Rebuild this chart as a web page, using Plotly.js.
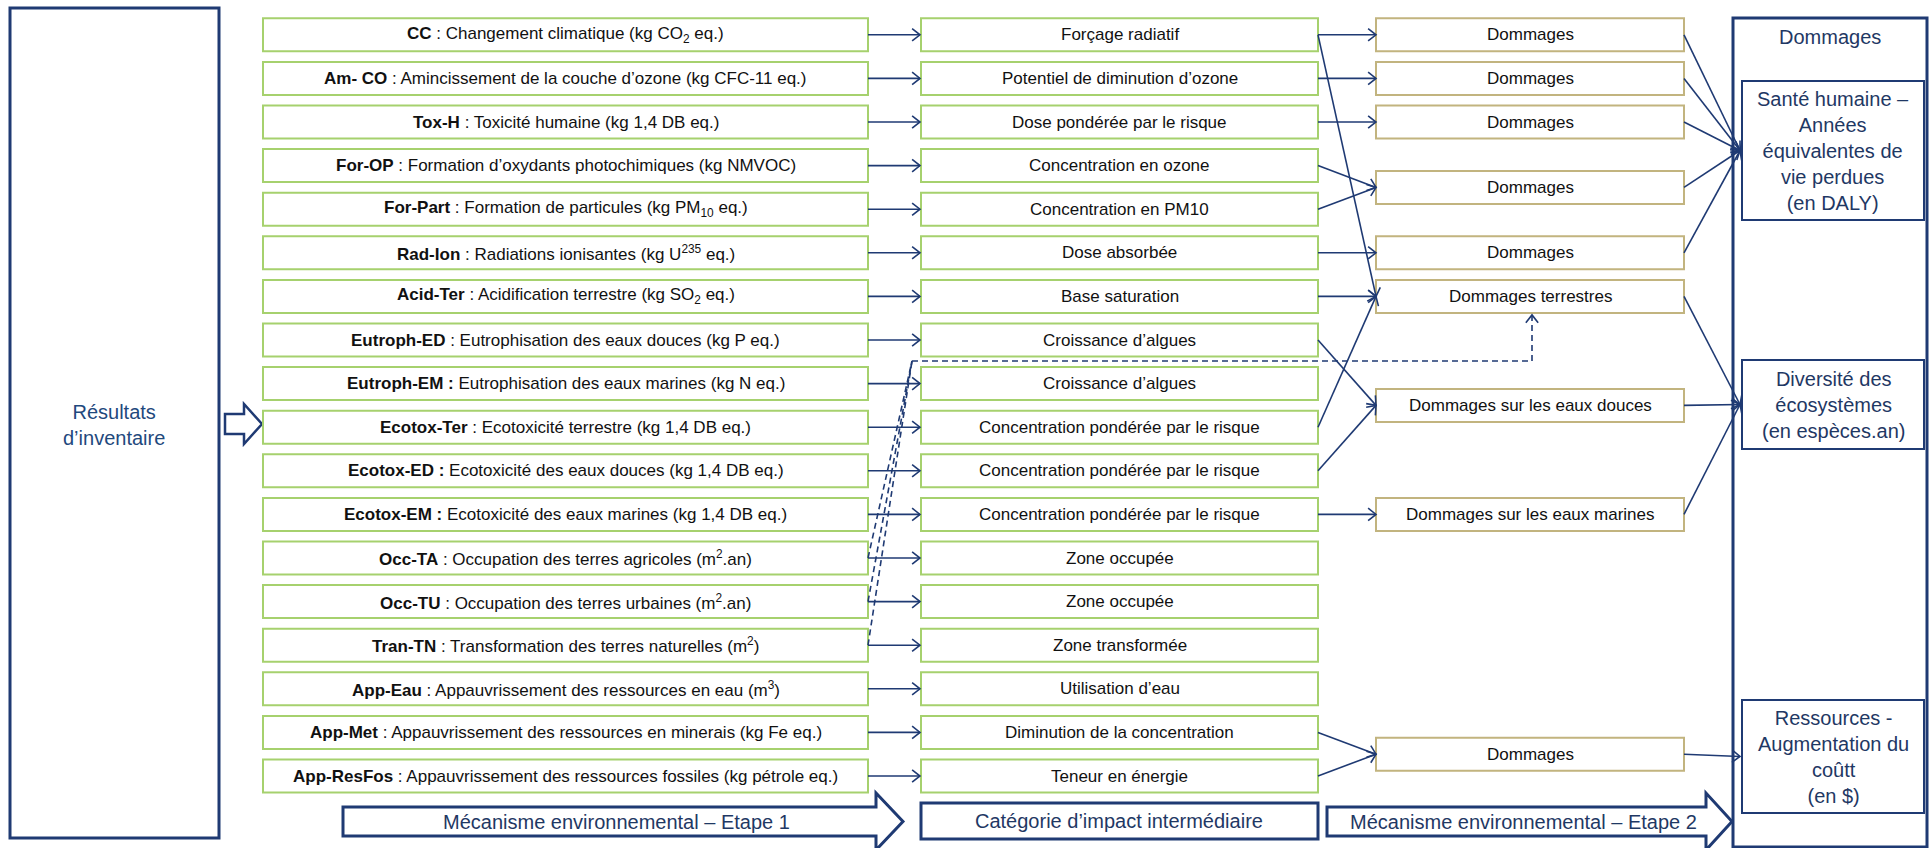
<!DOCTYPE html>
<html>
<head>
<meta charset="utf-8">
<script src="https://cdn.plot.ly/plotly-3.0.1.min.js"></script>
<style>html,body{margin:0;padding:0;background:#fff;}#chart{width:1930px;height:848px;}</style>
</head>
<body>
<div id="chart"></div>
<script>
// ---------- DATA ----------
const inventoryCodes = ['CC','Am- CO','Tox-H','For-OP','For-Part','Rad-Ion','Acid-Ter','Eutroph-ED','Eutroph-EM :','Ecotox-Ter','Ecotox-ED :','Ecotox-EM :','Occ-TA','Occ-TU','Tran-TN','App-Eau','App-Met','App-ResFos'];
const inventoryDescriptions = [
  ' : Changement climatique (kg CO<sub>2</sub> eq.)',
  ' : Amincissement de la couche d’ozone (kg CFC-11 eq.)',
  ' : Toxicité humaine (kg 1,4 DB eq.)',
  ' : Formation d’oxydants photochimiques (kg NMVOC)',
  ' : Formation de particules (kg PM<sub>10</sub> eq.)',
  ' : Radiations ionisantes (kg U<sup>235</sup> eq.)',
  ' : Acidification terrestre (kg SO<sub>2</sub> eq.)',
  ' : Eutrophisation des eaux douces (kg P eq.)',
  ' Eutrophisation des eaux marines (kg N eq.)',
  ' : Ecotoxicité terrestre (kg 1,4 DB eq.)',
  ' Ecotoxicité des eaux douces (kg 1,4 DB eq.)',
  ' Ecotoxicité des eaux marines (kg 1,4 DB eq.)',
  ' : Occupation des terres agricoles (m<sup>2</sup>.an)',
  ' : Occupation des terres urbaines (m<sup>2</sup>.an)',
  ' : Transformation des terres naturelles (m<sup>2</sup>)',
  ' : Appauvrissement des ressources en eau (m<sup>3</sup>)',
  ' : Appauvrissement des ressources en minerais (kg Fe eq.)',
  ' : Appauvrissement des ressources fossiles (kg pétrole eq.)'
];
const midpointCategories = ['Forçage radiatif','Potentiel de diminution d’ozone','Dose pondérée par le risque','Concentration en ozone','Concentration en PM10','Dose absorbée','Base saturation','Croissance d’algues','Croissance d’algues','Concentration pondérée par le risque','Concentration pondérée par le risque','Concentration pondérée par le risque','Zone occupée','Zone occupée','Zone transformée','Utilisation d’eau','Diminution de la concentration','Teneur en énergie'];
const damageLabels = ['Dommages','Dommages','Dommages','Dommages','Dommages','Dommages terrestres','Dommages sur les eaux douces','Dommages sur les eaux marines','Dommages'];
const damageRows = [0,1,2,3.5,5,6,8.5,11,16.5];
const midpointToDamage = [[0,0],[0,5],[1,1],[2,2],[3,3],[4,3],[5,4],[6,5],[7,6],[9,5],[10,6],[11,7],[16,8],[17,8]];
const landUseRows = [12,13,14];
const landUseTarget = 5;
const damageToEndpoint = [0,0,0,0,0,1,1,1,2];
const endpointLabels = ['Santé humaine –<br>Années<br>équivalentes de<br>vie perdues<br>(en DALY)','Diversité des<br>écosystèmes<br>(en espèces.an)','Ressources -<br>Augmentation du<br>coûtt<br>(en $)'];
const endpointHeader = 'Dommages';
const inventoryLabel = 'Résultats<br>d’inventaire';
const stageLabels = ['Mécanisme environnemental – Etape 1','Catégorie d’impact intermédiaire','Mécanisme environnemental – Etape 2'];

// ---------- LAYOUT CONSTANTS ----------
const W = 1930, H = 848;
const NAVY = '#1F3A73', TXT_NAVY = '#1F3864', GREEN = '#A6D16E', KHAKI = '#C2B47F';
const FONT = 'Arial, "Liberation Sans", sans-serif';
const ROW_TOP0 = 18.3, ROW_STEP = 43.6, BOX_H = 33;
const rowC = i => ROW_TOP0 + BOX_H / 2 + ROW_STEP * i;
const C1 = [263, 868], C2 = [921, 1318], C3 = [1376, 1684];
const endpointBoxes = [[81, 220], [360, 449], [700, 813]];
const EP_X = [1742, 1924];
const EP_ARROW_X = 1740;

const shapes = [], ann = [];
function rect(x0, y0, x1, y1, color, width) {
  shapes.push({type: 'rect', xref: 'x', yref: 'y', x0, y0, x1, y1, line: {color, width}, fillcolor: 'rgba(0,0,0,0)', layer: 'above'});
}
function path(d, color, width, dash, fill) {
  shapes.push({type: 'path', xref: 'x', yref: 'y', path: d, line: {color, width, dash: dash || 'solid'}, fillcolor: fill || 'rgba(0,0,0,0)', layer: 'above'});
}
function chevron(x0, y0, x1, y1) {
  const a = Math.atan2(y1 - y0, x1 - x0), L = 10, t = 38 * Math.PI / 180;
  const h1 = [x1 - L * Math.cos(a - t), y1 - L * Math.sin(a - t)];
  const h2 = [x1 - L * Math.cos(a + t), y1 - L * Math.sin(a + t)];
  return `M${h1[0]},${h1[1]} L${x1},${y1} L${h2[0]},${h2[1]}`;
}
function arrow(x0, y0, x1, y1, dash) {
  path(`M${x0},${y0} L${x1},${y1}`, NAVY, 1.6, dash);
  path(chevron(x0, y0, x1, y1), NAVY, 1.6);
}
function text(x, y, t, size, color, opts) {
  ann.push(Object.assign({xref: 'x', yref: 'y', x, y, text: t, showarrow: false, xanchor: 'center', yanchor: 'middle',
    font: {family: FONT, size, color}}, opts || {}));
}

// left inventory box
rect(10, 8, 219, 838, NAVY, 3);
text(114, 425, inventoryLabel, 20, '#1F497D');
// hollow arrow
path('M225,414 L244,414 L244,404 L262,424 L244,444 L244,434 L225,434 Z', NAVY, 2.5);

// rows
inventoryCodes.forEach((code, i) => {
  const top = ROW_TOP0 + ROW_STEP * i, c = rowC(i);
  rect(C1[0], top, C1[1], top + BOX_H, GREEN, 2);
  text((C1[0] + C1[1]) / 2, c, '<b>' + code + '</b>' + inventoryDescriptions[i], 17, '#111');
  rect(C2[0], top, C2[1], top + BOX_H, GREEN, 2);
  text((C2[0] + C2[1]) / 2, c, midpointCategories[i], 17, '#111');
  arrow(C1[1], c, C2[0] - 1, c);
});

// damage boxes
damageLabels.forEach((lab, j) => {
  const c = rowC(damageRows[j]);
  rect(C3[0], c - BOX_H / 2, C3[1], c + BOX_H / 2, KHAKI, 2);
  text((C3[0] + C3[1]) / 2, c, lab, 17, '#111');
});

// midpoint -> damage links
midpointToDamage.forEach(([m, d]) => {
  arrow(C2[1], rowC(m), C3[0], rowC(damageRows[d]));
});

// dashed land-use feed to terrestrial damage
const corner = [912, 361];
const dashX = 1532;
landUseRows.forEach(r => path(`M${C1[1]},${rowC(r)} L${corner[0]},${corner[1]}`, NAVY, 1.6, '6px,4px'));
path(`M${corner[0]},${corner[1]} L${dashX},${corner[1]} L${dashX},${rowC(damageRows[landUseTarget]) + BOX_H / 2 + 2}`, NAVY, 1.6, '6px,4px');
path(chevron(dashX, corner[1], dashX, rowC(damageRows[landUseTarget]) + BOX_H / 2 + 2), NAVY, 1.6);

// right endpoint box
rect(1733, 18, 1927, 847, NAVY, 3);
text(1830, 37, endpointHeader, 20, TXT_NAVY);
endpointLabels.forEach((lab, k) => {
  const [y0, y1] = endpointBoxes[k];
  rect(EP_X[0], y0, EP_X[1], y1, NAVY, 2);
  text((EP_X[0] + EP_X[1]) / 2, (y0 + y1) / 2, lab, 20, TXT_NAVY);
});
damageToEndpoint.forEach((k, j) => {
  const [y0, y1] = endpointBoxes[k];
  arrow(C3[1], rowC(damageRows[j]), EP_ARROW_X, (y0 + y1) / 2);
});

// bottom stage labels
path('M343,807 L876,807 L876,793 L903,821.5 L876,850 L876,836 L343,836 Z', NAVY, 3);
text(616, 822, stageLabels[0], 20, TXT_NAVY);
rect(921, 803, 1318, 839, NAVY, 3);
text(1119, 821, stageLabels[1], 20, TXT_NAVY);
path('M1327,807 L1706,807 L1706,793 L1732,821.5 L1706,850 L1706,836 L1327,836 Z', NAVY, 3);
text(1523, 822, stageLabels[2], 20, TXT_NAVY);

const layout = {
  width: W, height: H,
  margin: {l: 0, r: 0, t: 0, b: 0, pad: 0},
  paper_bgcolor: '#fff', plot_bgcolor: '#fff',
  xaxis: {range: [0, W], visible: false, fixedrange: true},
  yaxis: {range: [H, 0], visible: false, fixedrange: true},
  showlegend: false,
  shapes, annotations: ann
};
Plotly.newPlot('chart', [], layout, {staticPlot: true, displayModeBar: false});
</script>
</body>
</html>
